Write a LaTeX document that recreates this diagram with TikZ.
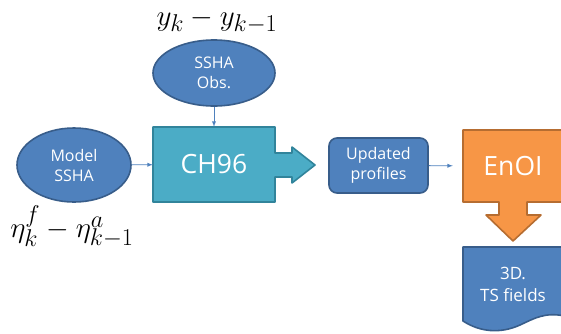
\documentclass[tikz,border=0pt]{standalone}
\usepackage{graphicx}
\usepackage{fontspec}
\setsansfont{Open Sans}
\usetikzlibrary{shapes.geometric}
\definecolor{boxblue}{RGB}{79,129,189}
\definecolor{lineblue}{RGB}{56,93,138}
\definecolor{tealfill}{RGB}{75,172,198}
\definecolor{tealline}{RGB}{49,132,155}
\definecolor{orangefill}{RGB}{247,150,70}
\definecolor{orangeline}{RGB}{182,109,49}
\newcommand{\bigmath}[1]{\scalebox{1.17}{\fontsize{24.88}{30}\selectfont$#1$}}
\tikzset{
    blob/.style={ellipse, draw=lineblue, fill=boxblue, line width=1.6pt,
        text=white, align=center, inner sep=0pt,
        font=\sffamily\fontsize{16}{20}\selectfont},
    bigtext/.style={text=white, font=\sffamily\fontsize{26.5}{30}\selectfont},
    flow/.style={->, draw=boxblue, line width=0.9pt},
    formula/.style={inner sep=0pt}
}
\begin{document}
\begin{tikzpicture}[x=1pt,y=-1pt,>=latex,line join=round]
    \useasboundingbox (0,0) rectangle (561,333);
    % the two inputs
    \node[blob, minimum width=122pt, minimum height=66pt] (obs) at (214,73) {SSHA\\Obs.};
    \node[blob, minimum width=114pt, minimum height=74pt] (model) at (74,165) {Model\\SSHA};
    \node[formula] (ydiff) at (217,21) {\bigmath{y_k - y_{k-1}}};
    \node[formula] (etadiff) at (72,227) {\bigmath{\eta_k^f - \eta_{k-1}^a}};
    % CH96 box with its arrow
    \draw[draw=tealline, fill=tealfill, line width=1.6pt]
        (153,127) -- (275,127) -- (275,153) -- (292,153) -- (292,147) -- (315,165)
        -- (292,183) -- (292,177) -- (275,177) -- (275,202) -- (153,202) -- cycle;
    \node[bigtext, minimum width=122pt, minimum height=75pt, inner sep=0pt] (ch96) at (214,164.5) {CH96};
    % updated profiles
    \node[draw=lineblue, fill=boxblue, line width=1.6pt, rounded corners=8pt,
        minimum width=99pt, minimum height=55pt, inner sep=0pt, text=white, align=center,
        font=\sffamily\fontsize{16}{20}\selectfont] (upd) at (378.5,165.5) {Updated\\profiles};
    % EnOI box pointing down
    \draw[draw=orangeline, fill=orangefill, line width=1.6pt]
        (463,130) -- (563,130) -- (563,202) -- (527,202) -- (527,215) -- (541,215) -- (513,241)
        -- (486,215) -- (499,215) -- (499,202) -- (463,202) -- cycle;
    \node[bigtext, minimum width=100pt, minimum height=72pt, inner sep=0pt] (enoi) at (513,166) {EnOI};
    % output fields
    \draw[draw=lineblue, fill=boxblue, line width=1.6pt]
        (463,247) -- (565,247) -- (565,316)
        .. controls (545,312) and (535,318) .. (520,325)
        .. controls (500,334) and (480,332) .. (463,321) -- cycle;
    \node[text=white, align=center, font=\sffamily\fontsize{17}{22}\selectfont] (ts) at (513,284) {3D.\\TS fields};
    % connectors
    \draw[flow] (obs) -- (ch96);
    \draw[flow] (model) -- (ch96);
    \draw[flow, shorten >=10pt] (upd) -- (enoi);
\end{tikzpicture}
\end{document}
